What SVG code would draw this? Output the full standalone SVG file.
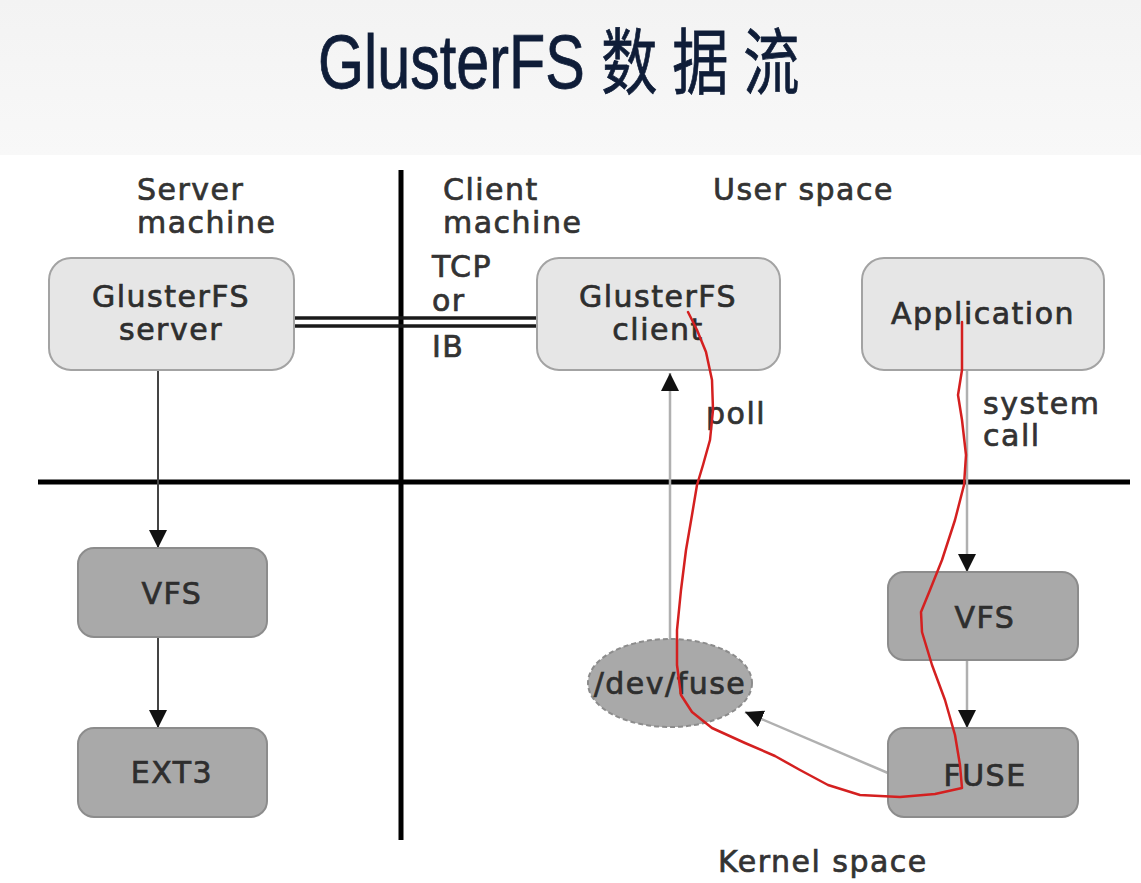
<svg xmlns="http://www.w3.org/2000/svg" width="1141" height="883" viewBox="0 0 1141 883">
<defs>
<marker id="ah" viewBox="0 0 18 20" refX="18" refY="10" markerWidth="18" markerHeight="20" markerUnits="userSpaceOnUse" orient="auto">
<path d="M0,1 L18,10 L0,19 Z" fill="#111"/>
</marker>
<linearGradient id="hdr" x1="0" y1="0" x2="0" y2="1">
<stop offset="0" stop-color="#f3f3f3"/>
<stop offset="1" stop-color="#f8f8f8"/>
</linearGradient>
<style>
.lbl{font-family:"DejaVu Sans","Verdana",sans-serif;font-size:30px;letter-spacing:1.5px;fill:#333;stroke:#333;stroke-width:0.7px}
.ntx{font-family:"DejaVu Sans","Verdana",sans-serif;font-size:30px;letter-spacing:1.5px;fill:#2e2e2e;stroke:#2e2e2e;stroke-width:0.7px;text-anchor:middle}
.light{fill:#e6e6e6;stroke:#a3a3a3;stroke-width:2}
.dark{fill:#a9a9a9;stroke:#8c8c8c;stroke-width:2}
.div{stroke:#000;stroke-width:5}
.c-dark{stroke:#444;stroke-width:2;fill:none}
.c-light{stroke:#b0b0b0;stroke-width:2.5;fill:none}
</style>
</defs>
<rect x="0" y="0" width="1141" height="883" fill="#ffffff"/>
<rect x="0" y="0" width="1141" height="155" fill="url(#hdr)"/>
<text transform="scale(0.78,1)" x="407.7" y="88" font-family="'Liberation Sans','Noto Sans CJK SC',sans-serif" font-size="76" fill="#0f1d38" stroke="#0f1d38" stroke-width="0.8">GlusterFS <tspan font-size="72" letter-spacing="19">数据流</tspan></text>

<g id="dividers">
<line class="div" x1="401" y1="170" x2="401" y2="840"/>
<line class="div" x1="38" y1="482" x2="1130" y2="482"/>
</g>

<g id="labels">
<text class="lbl" x="137" y="200">Server</text>
<text class="lbl" x="137" y="233">machine</text>
<text class="lbl" x="443" y="200">Client</text>
<text class="lbl" x="443" y="233">machine</text>
<text class="lbl" x="713" y="200">User space</text>
<text class="lbl" x="432" y="277">TCP</text>
<text class="lbl" x="432" y="311">or</text>
<text class="lbl" x="432" y="357">IB</text>
<text class="lbl" x="706" y="424">poll</text>
<text class="lbl" x="983" y="414">system</text>
<text class="lbl" x="983" y="446">call</text>
<text class="lbl" x="718" y="872">Kernel space</text>
</g>

<g id="connectors">
<line x1="294" y1="318" x2="537" y2="318" stroke="#1a1a1a" stroke-width="3.5"/>
<line x1="294" y1="326" x2="537" y2="326" stroke="#1a1a1a" stroke-width="3.5"/>
<line class="c-dark" x1="158" y1="371" x2="158" y2="548" marker-end="url(#ah)"/>
<line class="c-dark" x1="158" y1="637" x2="158" y2="728" marker-end="url(#ah)"/>
<line class="c-light" x1="670" y1="640" x2="670" y2="373" marker-end="url(#ah)"/>
<line class="c-light" x1="967" y1="371" x2="967" y2="572" marker-end="url(#ah)"/>
<line class="c-light" x1="967" y1="660" x2="967" y2="728" marker-end="url(#ah)"/>
<line class="c-light" x1="888" y1="773" x2="745" y2="712" marker-end="url(#ah)"/>
</g>

<g id="server">
<rect class="light" x="49" y="258" width="245" height="112" rx="22"/>
<text class="ntx" x="171" y="307">GlusterFS</text>
<text class="ntx" x="171" y="340">server</text>
</g>
<g id="client">
<rect class="light" x="537" y="258" width="243" height="112" rx="22"/>
<text class="ntx" x="658" y="307">GlusterFS</text>
<text class="ntx" x="658" y="340">client</text>
</g>
<g id="application">
<rect class="light" x="862" y="258" width="242" height="112" rx="22"/>
<text class="ntx" x="983" y="324">Application</text>
</g>
<g id="vfs-server">
<rect class="dark" x="78" y="548" width="189" height="89" rx="16"/>
<text class="ntx" x="172" y="604">VFS</text>
</g>
<g id="ext3">
<rect class="dark" x="78" y="728" width="189" height="89" rx="16"/>
<text class="ntx" x="172" y="783">EXT3</text>
</g>
<g id="vfs-client">
<rect class="dark" x="888" y="572" width="190" height="88" rx="16"/>
<text class="ntx" x="985" y="628">VFS</text>
</g>
<g id="fuse">
<rect class="dark" x="888" y="728" width="190" height="89" rx="16"/>
<text class="ntx" x="985" y="786">FUSE</text>
</g>
<g id="devfuse">
<ellipse cx="670" cy="683" rx="82" ry="44" fill="#a9a9a9" stroke="#8c8c8c" stroke-width="2" stroke-dasharray="5,3"/>
<text class="ntx" x="670" y="694">/dev/fuse</text>
</g>

<g id="dataflow">
<path d="M688,312 L697,330 L706,352 L712,380 L713,410 L710,440 L703,465 L697,485 L692,515 L686,550 L681,590 L677,630 L677,665 L681,695 L692,712 L712,728 L745,743 L775,756 L800,770 L828,785 L860,795 L900,797 L935,794 L962,788 L960,765 L955,735 L945,700 L932,665 L922,632 L921,612 L930,590 L942,560 L955,520 L964,485 L966,455 L962,420 L958,395 L962,370 L962,345 L962,322" fill="none" stroke="#d42020" stroke-width="2.5" stroke-linejoin="round" stroke-linecap="round"/>
</g>
</svg>
